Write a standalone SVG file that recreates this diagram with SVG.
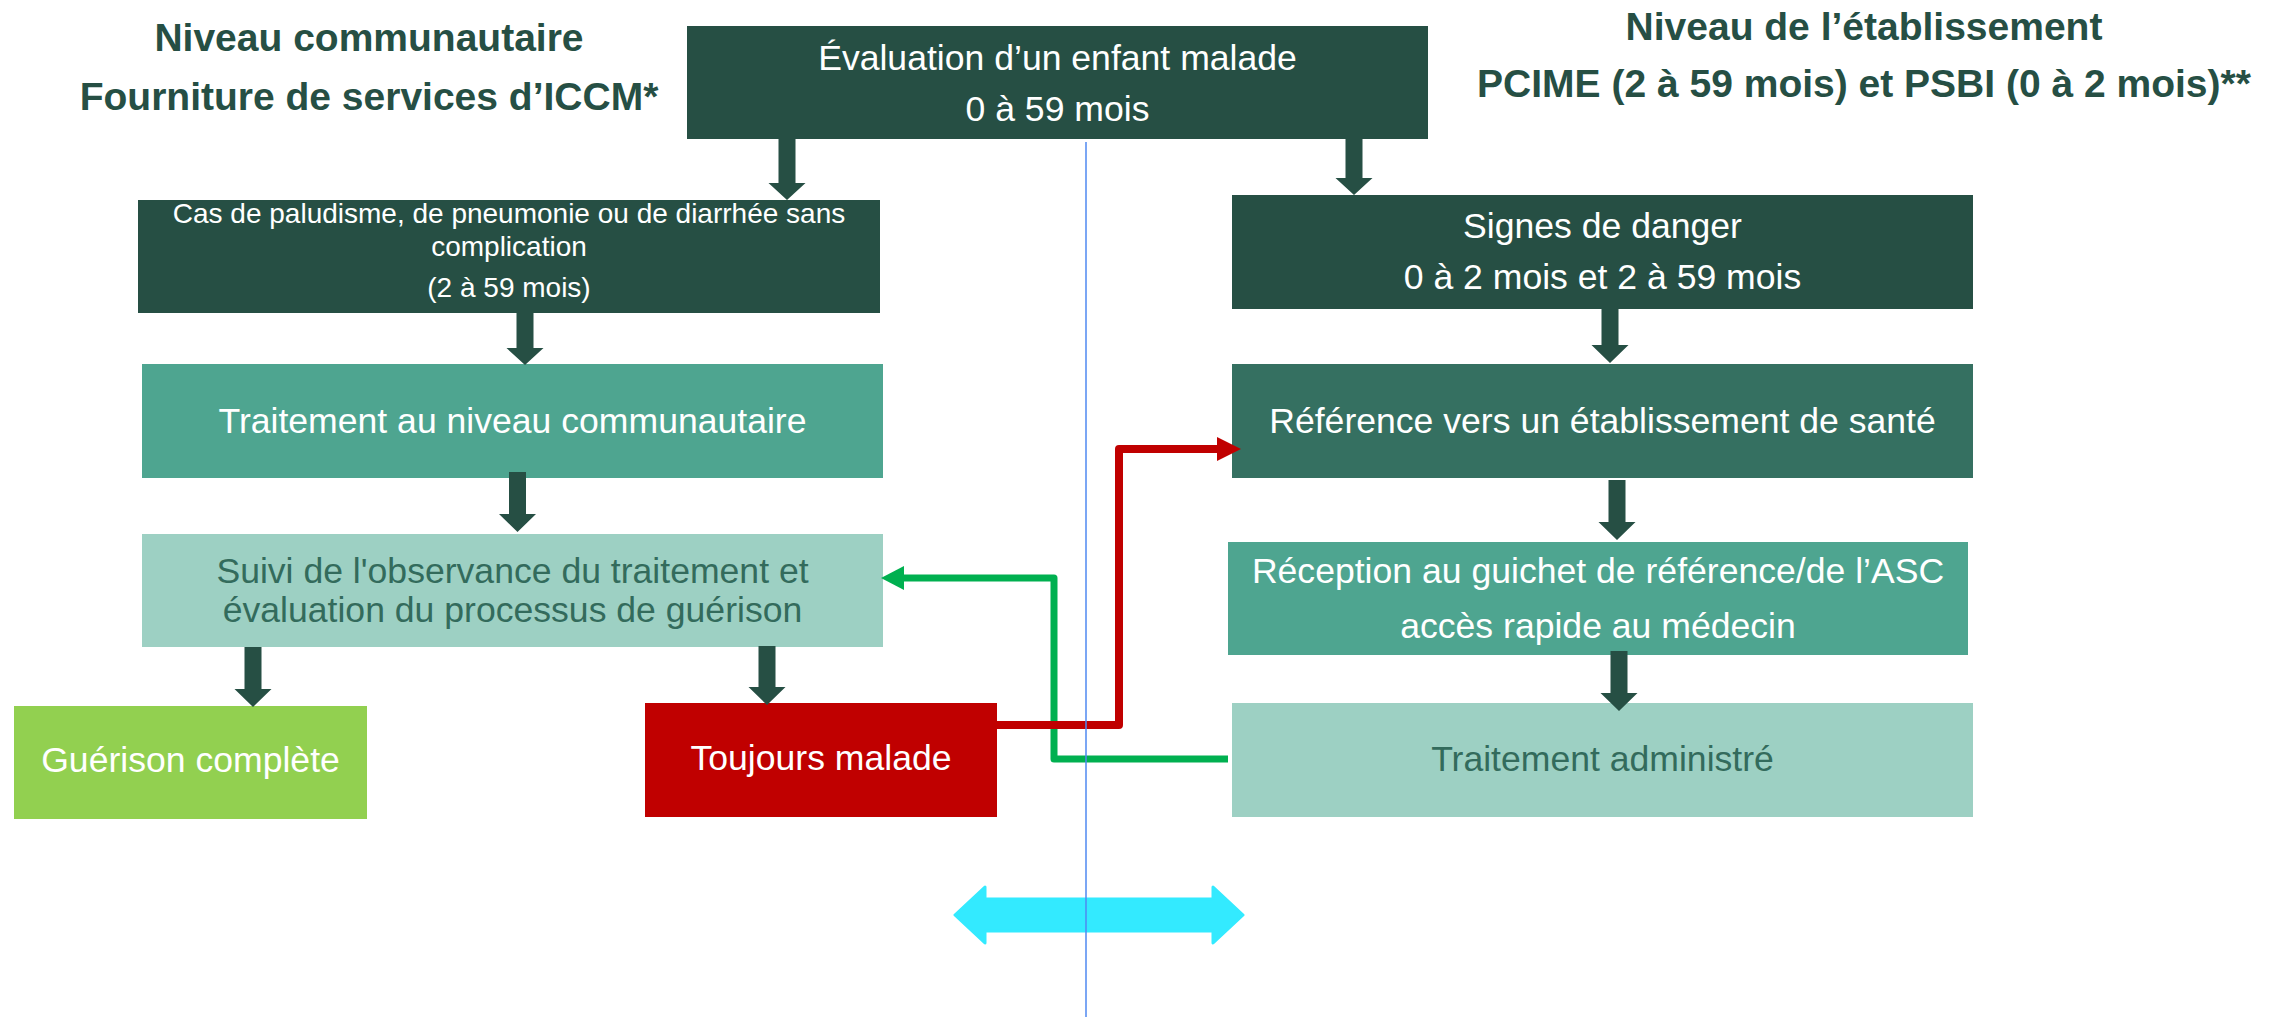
<svg xmlns="http://www.w3.org/2000/svg" width="2278" height="1017" viewBox="0 0 2278 1017">
  <style>
    .title { font-family: "Liberation Sans", Arial, sans-serif; font-weight: bold; font-size: 39px; fill: #264f44; text-anchor: middle; }
    .lbl { font-family: "Liberation Sans", Arial, sans-serif; font-size: 35.6px; fill: #ffffff; text-anchor: middle; }
    .lbl-sm { font-family: "Liberation Sans", Arial, sans-serif; font-size: 28px; fill: #ffffff; text-anchor: middle; }
    .lbl-dark { fill: #336b5c; }
    .dark { fill: #264f44; }
    .ref { fill: #357061; }
    .mid { fill: #4ea590; }
    .light { fill: #9dd0c3; }
    .cured { fill: #92d050; }
    .sick { fill: #c00000; }
    .flow { fill: #264f44; }
  </style>

  <rect width="2278" height="1017" fill="#ffffff"/>

  <!-- column headings -->
  <g id="heading-community">
    <text class="title" x="369" y="51">Niveau communautaire</text>
    <text class="title" x="369" y="110">Fourniture de services d’ICCM*</text>
  </g>
  <g id="heading-facility">
    <text class="title" x="1864" y="40">Niveau de l’établissement</text>
    <text class="title" x="1864" y="97">PCIME (2 à 59 mois) et PSBI (0 à 2 mois)**</text>
  </g>

  <!-- two-way exchange between the levels -->
  <g id="exchange">
    <polygon points="955,915 985,887 985,899 1213,899 1213,887 1243,915 1213,943 1213,931 985,931 985,943" fill="#33eaff" stroke="#33eaff" stroke-width="3" stroke-linejoin="round"/>
  </g>

  <!-- nodes -->
  <g id="assessment">
    <rect class="dark" x="687" y="26" width="741" height="113"/>
    <text class="lbl" x="1057.5" y="70">Évaluation d’un enfant malade</text>
    <text class="lbl" x="1057.5" y="121">0 à 59 mois</text>
  </g>

  <g id="uncomplicated-case">
    <rect class="dark" x="138" y="200" width="742" height="113"/>
    <text class="lbl-sm" x="509" y="223">Cas de paludisme, de pneumonie ou de diarrhée sans</text>
    <text class="lbl-sm" x="509" y="256">complication</text>
    <text class="lbl-sm" x="509" y="297">(2 à 59 mois)</text>
  </g>

  <g id="community-treatment">
    <rect class="mid" x="142" y="364" width="741" height="114"/>
    <text class="lbl" x="512.5" y="433">Traitement au niveau communautaire</text>
  </g>

  <g id="follow-up">
    <rect class="light" x="142" y="534" width="741" height="113"/>
    <text class="lbl lbl-dark" x="512.5" y="583">Suivi de l'observance du traitement et</text>
    <text class="lbl lbl-dark" x="512.5" y="622">évaluation du processus de guérison</text>
  </g>

  <g id="cured">
    <rect class="cured" x="14" y="706" width="353" height="113"/>
    <text class="lbl" x="190.5" y="772">Guérison complète</text>
  </g>

  <g id="still-sick">
    <rect class="sick" x="645" y="703" width="352" height="114"/>
    <text class="lbl" x="821" y="770">Toujours malade</text>
  </g>

  <g id="danger-signs">
    <rect class="dark" x="1232" y="195" width="741" height="114"/>
    <text class="lbl" x="1602.5" y="238">Signes de danger</text>
    <text class="lbl" x="1602.5" y="289">0 à 2 mois et 2 à 59 mois</text>
  </g>

  <g id="referral">
    <rect class="ref" x="1232" y="364" width="741" height="114"/>
    <text class="lbl" x="1602.5" y="433">Référence vers un établissement de santé</text>
  </g>

  <g id="reception">
    <rect class="mid" x="1228" y="542" width="740" height="113"/>
    <text class="lbl" x="1598" y="583">Réception au guichet de référence/de l’ASC</text>
    <text class="lbl" x="1598" y="638">accès rapide au médecin</text>
  </g>

  <g id="treatment-given">
    <rect class="light" x="1232" y="703" width="741" height="114"/>
    <text class="lbl lbl-dark" x="1602.5" y="771">Traitement administré</text>
  </g>

  <!-- connectors -->
  <g id="connectors">
    <!-- block arrows: shaft 17 wide, head 37 wide -->
    <polygon class="flow" points="778.5,139 795.5,139 795.5,183 805.5,183 787,200 768.5,183 778.5,183"/>
    <polygon class="flow" points="1345.5,139 1362.5,139 1362.5,178 1372.5,178 1354,195 1335.5,178 1345.5,178"/>
    <polygon class="flow" points="516.5,313 533.5,313 533.5,348 543.5,348 525,365 506.5,348 516.5,348"/>
    <polygon class="flow" points="509,472 526,472 526,514 536,514 517.5,532 499,514 509,514"/>
    <polygon class="flow" points="244.5,647 261.5,647 261.5,689 271.5,689 253,707 234.5,689 244.5,689"/>
    <polygon class="flow" points="758.5,646 775.5,646 775.5,687 785.5,687 767,705 748.5,687 758.5,687"/>
    <polygon class="flow" points="1601.5,309 1618.5,309 1618.5,345 1628.5,345 1610,363 1591.5,345 1601.5,345"/>
    <polygon class="flow" points="1608.5,480 1625.5,480 1625.5,522 1635.5,522 1617,540 1598.5,522 1608.5,522"/>
    <polygon class="flow" points="1610.5,651 1627.5,651 1627.5,693 1637.5,693 1619,711 1600.5,693 1610.5,693"/>

    <!-- treatment given, back to follow-up -->
    <polyline points="1228,759 1054,759 1054,578 902,578" fill="none" stroke="#00b050" stroke-width="7" stroke-linejoin="round"/>
    <polygon points="904,566 881,578 904,590" fill="#00b050"/>

    <!-- still sick, referred to a facility -->
    <polyline points="997,725 1119,725 1119,449 1219,449" fill="none" stroke="#c00000" stroke-width="8" stroke-linejoin="round"/>
    <polygon points="1217,437 1241,449 1217,461" fill="#c00000"/>
  </g>

  <!-- divider between the two levels -->
  <line id="divider" x1="1086" y1="142" x2="1086" y2="1017" stroke="#4f88f0" stroke-width="1.5"/>
</svg>
